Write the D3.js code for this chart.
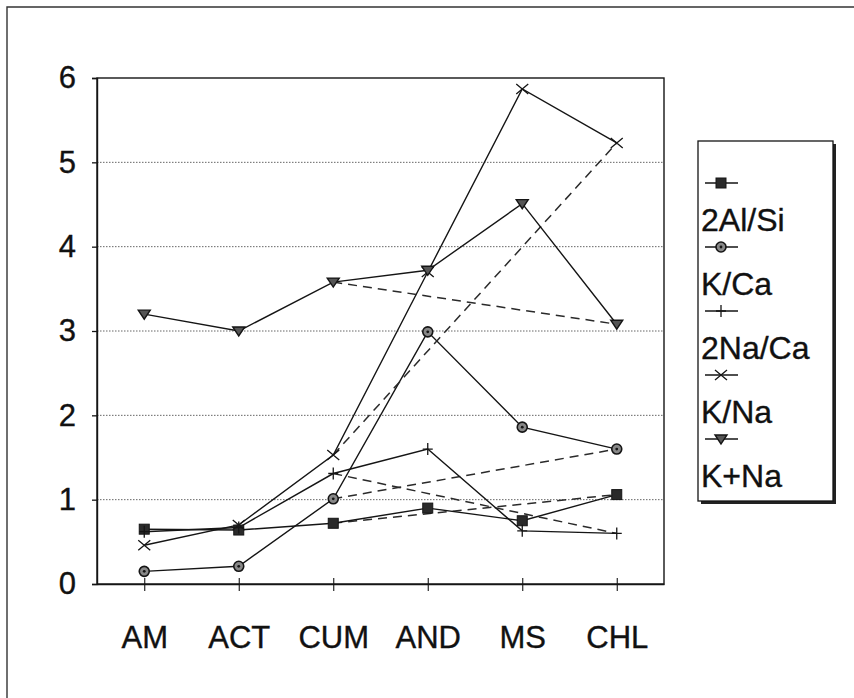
<!DOCTYPE html>
<html>
<head>
<meta charset="utf-8">
<script src="https://cdn.jsdelivr.net/npm/d3@7"></script>
<style>
  html, body { margin: 0; padding: 0; background: #fff; }
  svg { display: block; }
  text { font-family: "Liberation Sans", Arial, sans-serif; fill: #111; }
</style>
</head>
<body>
<svg id="chart" width="854" height="698"></svg>
<script>
// Mineral groups along the x axis
const categories = ["AM", "ACT", "CUM", "AND", "MS", "CHL"];
const yTicks = [0, 1, 2, 3, 4, 5, 6];
const gridValues = [1, 2, 3, 4, 5];

// Ratios per mineral group
const al2Si  = [0.65, 0.64, 0.72, 0.90, 0.75, 1.06];   // 2Al/Si
const kCa    = [0.15, 0.21, 1.01, 2.99, 1.86, 1.60];   // K/Ca
const na2Ca  = [0.62, 0.67, 1.31, 1.60, 0.63, 0.60];   // 2Na/Ca
const kNa    = [0.46, 0.70, 1.53, 3.70, 5.87, 5.23];   // K/Na
const kPlusNa = [3.20, 3.00, 3.58, 3.72, 4.51, 3.08];  // K+Na

const seriesNames = ["2Al/Si", "K/Ca", "2Na/Ca", "K/Na", "K+Na"];
const seriesValues = [al2Si, kCa, na2Ca, kNa, kPlusNa];
const seriesMarkers = ["square", "circle", "plus", "cross", "triangle"];

// Direct link drawn dashed between these two groups
const linkFrom = "CUM";
const linkTo = "CHL";

const svg = d3.select("#chart");
const ink = "#151515";
const font = "Liberation Sans, Arial, sans-serif";

const plot = { left: 97, right: 664, top: 78, bottom: 584 };

const x = d3.scalePoint().domain(categories).range([plot.left, plot.right]).padding(0.5);
const y = d3.scaleLinear().domain([0, 6]).range([plot.bottom, plot.top]);

// Outer chart frame
svg.append("path")
  .attr("d", "M7,698 L7,7 L854,7")
  .attr("fill", "none").attr("stroke", "#333").attr("stroke-width", 1.4);

// Horizontal gridlines
svg.append("g").selectAll("line").data(gridValues).join("line")
  .attr("x1", plot.left).attr("x2", plot.right)
  .attr("y1", d => y(d)).attr("y2", d => y(d))
  .attr("stroke", "#666").attr("stroke-width", 1)
  .attr("stroke-dasharray", "1.5,1.5");

// Plot frame
svg.append("rect")
  .attr("x", plot.left).attr("y", plot.top)
  .attr("width", plot.right - plot.left).attr("height", plot.bottom - plot.top)
  .attr("fill", "none").attr("stroke", ink).attr("stroke-width", 1.4);

function styleLabel(sel, size) {
  sel.attr("font-size", size).attr("fill", "#111")
    .attr("font-family", font)
    .attr("stroke", "#111").attr("stroke-width", 0.35);
}

// Y axis
const yAxis = svg.append("g")
  .attr("transform", `translate(${plot.left},0)`)
  .call(d3.axisLeft(y).tickValues(yTicks).tickFormat(d3.format("d")).tickSize(5).tickPadding(16));
yAxis.select(".domain").attr("stroke", ink).attr("stroke-width", 1.4);
yAxis.selectAll(".tick line").attr("stroke", ink).attr("stroke-width", 1.3);
styleLabel(yAxis.selectAll(".tick text"), 31);

// X axis
const xAxis = svg.append("g")
  .attr("transform", `translate(0,${plot.bottom})`)
  .call(d3.axisBottom(x).tickSize(7).tickPadding(35).tickSizeOuter(0));
xAxis.select(".domain").attr("stroke", ink).attr("stroke-width", 1.4);
xAxis.selectAll(".tick line").attr("y1", -6).attr("y2", 7).attr("stroke", ink).attr("stroke-width", 1.1);
styleLabel(xAxis.selectAll(".tick text"), 31);

// Marker shapes
function drawMarker(g, type, cx, cy) {
  const m = g.append("g").attr("transform", `translate(${cx},${cy})`);
  if (type === "square") {
    m.append("rect").attr("x", -5).attr("y", -5).attr("width", 10).attr("height", 10)
      .attr("fill", "#2a2a2a").attr("stroke", ink).attr("stroke-width", 1);
  } else if (type === "circle") {
    m.append("circle").attr("r", 5).attr("fill", "#888").attr("stroke", ink).attr("stroke-width", 1.6);
    m.append("circle").attr("r", 1.4).attr("fill", ink);
  } else if (type === "plus") {
    m.append("path").attr("d", "M-5,0 L5,0 M0,-6 L0,6")
      .attr("stroke", ink).attr("stroke-width", 1.3);
  } else if (type === "cross") {
    m.append("path").attr("d", "M-6,-5 L6,5 M-6,5 L6,-5")
      .attr("stroke", ink).attr("stroke-width", 1.3);
  } else if (type === "triangle") {
    m.append("path").attr("d", "M-6,-4 L6,-4 L0,5 Z")
      .attr("fill", "#555").attr("stroke", ink).attr("stroke-width", 1.4);
  }
}

const line = d3.line().x((d, i) => x(categories[i])).y(d => y(d));
const iFrom = categories.indexOf(linkFrom);
const iTo = categories.indexOf(linkTo);

const series = svg.append("g");
seriesValues.forEach((vals) => {
  // Dashed direct link
  series.append("line")
    .attr("x1", x(linkFrom)).attr("y1", y(vals[iFrom]))
    .attr("x2", x(linkTo)).attr("y2", y(vals[iTo]))
    .attr("stroke", "#2a2a2a").attr("stroke-width", 1.5)
    .attr("stroke-dasharray", "9,6");
  // Solid series line
  series.append("path").datum(vals)
    .attr("d", line)
    .attr("fill", "none").attr("stroke", ink).attr("stroke-width", 1.4);
});
seriesValues.forEach((vals, s) => {
  vals.forEach((v, i) => drawMarker(series, seriesMarkers[s], x(categories[i]), y(v)));
});

// Legend
const legend = { x: 698, y: 141, w: 135, h: 360 };
svg.append("rect")
  .attr("x", legend.x + 3).attr("y", legend.y + 3)
  .attr("width", legend.w).attr("height", legend.h)
  .attr("fill", "#222");
svg.append("rect")
  .attr("x", legend.x).attr("y", legend.y)
  .attr("width", legend.w).attr("height", legend.h)
  .attr("fill", "#fff").attr("stroke", ink).attr("stroke-width", 1.3);

const lg = svg.append("g");
seriesNames.forEach((name, s) => {
  const my = 183 + s * 64;
  lg.append("line").attr("x1", 705).attr("x2", 738).attr("y1", my).attr("y2", my)
    .attr("stroke", ink).attr("stroke-width", 1.3);
  drawMarker(lg, seriesMarkers[s], 721, my);
  styleLabel(lg.append("text").attr("x", 701).attr("y", my + 48).text(name), 32);
});
</script>
</body>
</html>
